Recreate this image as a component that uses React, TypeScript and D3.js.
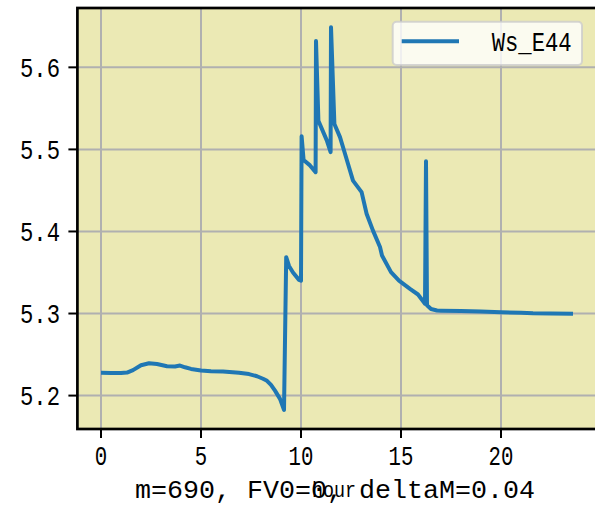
import React from "react";
import * as d3 from "d3";

const hours: number[] = [
  0, 0.5, 1.0, 1.3, 1.6, 2.0, 2.4, 2.8, 3.3, 3.7, 3.95, 4.2, 4.5, 5.0, 5.5, 6.1, 6.9, 7.4, 7.8, 8.1, 8.3, 8.5, 8.7, 8.95, 9.15,
  9.26, 9.4, 9.6, 9.9, 10.0,
  10.03, 10.13, 10.45, 10.73,
  10.75, 10.87, 11.29, 11.48,
  11.5, 11.67, 11.95, 12.2, 12.6, 13.03, 13.28, 13.6, 13.95, 14.05, 14.5, 14.9, 15.45, 15.85, 16.2,
  16.25, 16.3, 16.5, 16.8, 17.0, 18.0, 19.0, 20.0, 21.0, 21.6, 22.5, 23.6,
];
const wsE44: number[] = [
  5.2277, 5.2275, 5.2276, 5.228, 5.231, 5.237, 5.2394, 5.2385, 5.2358, 5.2355, 5.2366, 5.2345, 5.2325, 5.2305, 5.2296, 5.2293, 5.2278, 5.2262, 5.2236, 5.2205, 5.218, 5.213, 5.206, 5.196, 5.1826,
  5.3687, 5.358, 5.35, 5.341, 5.34,
  5.516, 5.487, 5.4805, 5.4723,
  5.632, 5.535, 5.511, 5.4967,
  5.649, 5.531, 5.515, 5.4947, 5.462, 5.448, 5.4216, 5.401, 5.381, 5.3707, 5.3504, 5.34, 5.33, 5.3232, 5.312,
  5.4857, 5.31, 5.3055, 5.3037, 5.3035, 5.303, 5.3024, 5.3016, 5.301, 5.3004, 5.3, 5.2996,
];
const xTicks: number[] = [0, 5, 10, 15, 20];
const yTicks: number[] = [5.2, 5.3, 5.4, 5.5, 5.6];
const seriesName = "Ws_E44";
const xLabel = "hour";
const titleText = "m=690, FV0=0, deltaM=0.04";

const W = 595;
const H = 510;
const L = 77.4, R = 596.6, T = 8, B = 429;
const FONT = "'Liberation Mono', 'DejaVu Sans Mono', monospace";

export default function App() {
  const xExt = d3.extent(hours) as [number, number];
  const yExt = d3.extent(wsE44) as [number, number];
  const xm = (xExt[1] - xExt[0]) * 0.05;
  const ym = (yExt[1] - yExt[0]) * 0.05;
  const x = d3.scaleLinear().domain([xExt[0] - xm, xExt[1] + xm]).range([L, R]);
  const y = d3.scaleLinear().domain([yExt[0] - ym, yExt[1] + ym]).range([B, T]);
  const data = hours.map((h, i) => [h, wsE44[i]] as [number, number]);
  const line = d3.line<[number, number]>().x(d => x(d[0])).y(d => y(d[1]));

  return (
    <svg width={W} height={H} style={{ position: "absolute", left: 0, top: 0, background: "#fff" }}>
      <rect x={L} y={T} width={R - L} height={B - T} fill="#EBE9B4" />
      {xTicks.map(t => (
        <line key={"gx" + t} x1={x(t)} x2={x(t)} y1={T} y2={B} stroke="#b0b0b0" strokeWidth={2} />
      ))}
      {yTicks.map(t => (
        <line key={"gy" + t} x1={L} x2={R} y1={y(t)} y2={y(t)} stroke="#b0b0b0" strokeWidth={2} />
      ))}
      <path d={line(data) || ""} fill="none" stroke="#1f77b4" strokeWidth={4} strokeLinejoin="round" />
      <rect x={L} y={T} width={R - L} height={B - T} fill="none" stroke="#000" strokeWidth={2.7} />
      {xTicks.map(t => (
        <g key={"tx" + t}>
          <line x1={x(t)} x2={x(t)} y1={B} y2={B + 9} stroke="#000" strokeWidth={2} />
          <text x={x(t)} y={465} textAnchor="middle" fontFamily={FONT} fontSize={27}
            textLength={String(t).length * 12.4} lengthAdjust="spacingAndGlyphs" fill="#000">{String(t)}</text>
        </g>
      ))}
      {yTicks.map(t => (
        <g key={"ty" + t}>
          <line x1={L - 9} x2={L} y1={y(t)} y2={y(t)} stroke="#000" strokeWidth={2} />
          <text x={60} y={y(t) + 9.3} textAnchor="end" fontFamily={FONT} fontSize={27}
            textLength={40} lengthAdjust="spacingAndGlyphs" fill="#000">{t.toFixed(1)}</text>
        </g>
      ))}
      <text x={(L + R) / 2 - 3} y={497} textAnchor="middle" fontFamily={FONT} fontSize={22}
        textLength={44} lengthAdjust="spacingAndGlyphs" fill="#000">{xLabel}</text>
      <text x={135} y={498} fontFamily={FONT} fontSize={25}
        textLength={400} lengthAdjust="spacingAndGlyphs" fill="#000">{titleText}</text>
      <rect x={392.7} y={21.7} width={189.3} height={43.3} rx={4} fill="#fff" fillOpacity={0.8}
        stroke="#cccccc" strokeOpacity={0.8} strokeWidth={2} />
      <line x1={401.7} x2={459} y1={41.3} y2={41.3} stroke="#1f77b4" strokeWidth={4} />
      <text x={491.7} y={50.7} fontFamily={FONT} fontSize={27}
        textLength={80} lengthAdjust="spacingAndGlyphs" fill="#000">{seriesName}</text>
    </svg>
  );
}
